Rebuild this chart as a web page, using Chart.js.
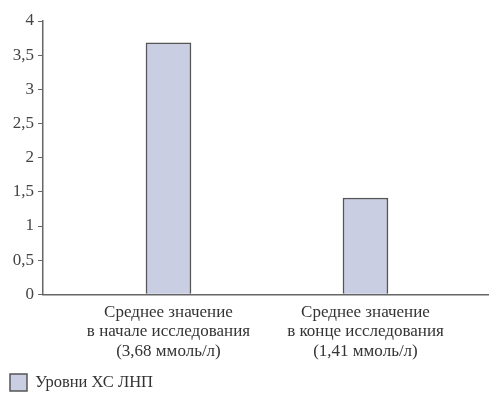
<!DOCTYPE html>
<html>
<head>
<meta charset="utf-8">
<script src="https://cdn.jsdelivr.net/npm/chart.js@4/dist/chart.umd.min.js"></script>
<style>
  html, body { margin: 0; padding: 0; background: #fff; }
  #wrap { width: 500px; height: 401px; }
</style>
</head>
<body>
<div id="wrap"><canvas id="myChart"></canvas></div>
<script>
const categories = [
  ['Среднее значение', 'в начале исследования', '(3,68 ммоль/л)'],
  ['Среднее значение', 'в конце исследования', '(1,41 ммоль/л)']
];
const levels = [3.68, 1.41];
const yTicks = [0, 0.5, 1, 1.5, 2, 2.5, 3, 3.5, 4];
const seriesName = 'Уровни ХС ЛНП';

const family = '"Liberation Serif", "DejaVu Serif", serif';

const data = {
  datasets: [{
    label: seriesName,
    data: levels.map((v, i) => ({ x: i, y: v })),
    backgroundColor: '#c9cee2',
    borderColor: '#555',
    borderWidth: 1.5,
    barThickness: 45
  }]
};

const config = {
  type: 'bar',
  data: data,
  options: {
    responsive: true,
    maintainAspectRatio: false,
    animation: false,
    layout: { padding: { top: 21, right: 12, left: 0, bottom: 0 } },
    plugins: {
      tooltip: { enabled: false },
      legend: {
        position: 'bottom',
        align: 'start',
        // empty title only adds a little space above the legend row
        title: { display: true, text: '', font: { size: 1, lineHeight: 1 }, padding: { top: 0, bottom: 2 } },
        labels: {
          font: { family: family, size: 16.5 },
          color: '#333',
          boxWidth: 17,
          boxHeight: 17,
          padding: 10
        }
      }
    },
    scales: {
      x: {
        type: 'linear',
        offset: false,
        min: -0.637,
        max: 1.622,
        afterBuildTicks: (axis) => {
          axis.ticks = categories.map((c, i) => ({ value: i }));
        },
        ticks: {
          font: { family: family, size: 17, lineHeight: 1.15 },
          color: '#333',
          maxRotation: 0,
          autoSkip: false,
          padding: 0,
          callback: (v) => categories[v]
        },
        grid: { display: false },
        border: { display: true, color: '#666', width: 1.5 }
      },
      y: {
        min: 0,
        max: 4,
        afterBuildTicks: (axis) => {
          axis.ticks = yTicks.map(v => ({ value: v }));
        },
        afterFit: (axis) => {
          axis.width = 43;
        },
        ticks: {
          font: { family: family, size: 17 },
          color: '#444',
          padding: 4,
          callback: (v) => String(v).replace('.', ',')
        },
        grid: {
          drawOnChartArea: false,
          drawTicks: true,
          tickLength: 5,
          color: '#666'
        },
        border: { display: true, color: '#666', width: 1.5 }
      }
    }
  }
};

const myChart = new Chart(document.getElementById('myChart'), config);
</script>
</body>
</html>
